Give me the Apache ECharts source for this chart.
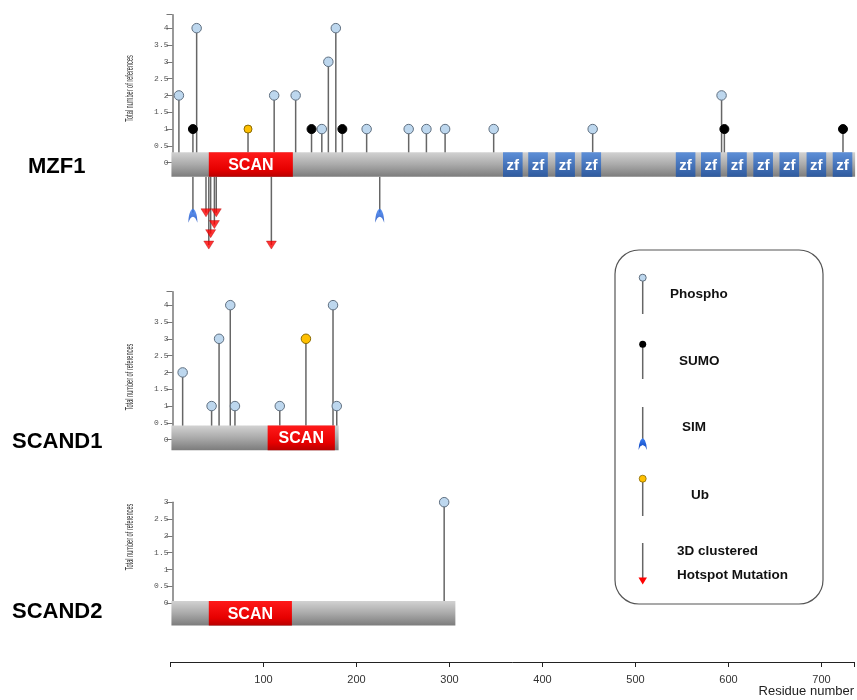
<!DOCTYPE html>
<html>
<head>
<meta charset="utf-8">
<script src="https://cdn.jsdelivr.net/npm/echarts@6/dist/echarts.min.js"></script>
<style>
  html, body { margin: 0; background: #fff; }
  #chart { width: 857px; height: 700px; }
</style>
</head>
<body>
<div id="chart"></div>
<script>
// protein layout data
const proteinNames = ['MZF1', 'SCAND1', 'SCAND2'];
const proteinLengths = [733, 180, 305];
const scanDomains = [[41, 131], [104, 176], [41, 130]];
const mzf1ZincFingers = [[356, 377], [383, 404], [412, 433], [440, 461], [541, 562], [568, 589],
  [596, 617], [624, 645], [652, 673], [681, 702], [709, 730]];

// PTM sites: [residue, total number of references]
const mzf1Phospho = [[9, 2], [28, 4], [111, 2], [134, 2], [162, 1], [169, 3], [177, 4], [210, 1],
  [255, 1], [274, 1], [294, 1], [346, 1], [452, 1], [590, 2]];
const mzf1Sumo = [[24, 1], [151, 1], [184, 1], [593, 1], [720, 1]];
const mzf1Ub = [[83, 1]];
const scand1Phospho = [[13, 2], [44, 1], [52, 3], [64, 4], [69, 1], [117, 1], [174, 4], [178, 1]];
const scand1Ub = [[145, 3]];
const scand2Phospho = [[293, 3]];

// marks under the MZF1 bar: [residue, depth]
const mzf1Sim = [[24, 1.16], [224, 1.16]];
const mzf1Hotspot = [[38, 1.07], [49, 1.07], [47, 1.42], [43, 1.69], [41, 2.03], [108, 2.03]];

const yMaxes = [4.4, 4.4, 3];
const xTickStep = 100;

const chart = echarts.init(document.getElementById('chart'));

const LEFT = 170.5, WIDTH = 687.2, XMAX = 735;
const BAR_H = 0.73;
const barTops = [0.31, 0.42, 0.06];
const upperGrids = [0, 2, 3];

const stemColor = '#666666';
const phosphoColor = '#bdd7ee';
const ubColor = '#ffc000';
const labelFont = 'Liberation Sans, Arial, sans-serif';

const grayFill = new echarts.graphic.LinearGradient(0, 0, 0, 1, [
  { offset: 0, color: '#d2d2d2' }, { offset: 0.5, color: '#aaaaaa' }, { offset: 1, color: '#7c7c7c' }]);
const redFill = new echarts.graphic.LinearGradient(0, 0, 0, 1, [
  { offset: 0, color: '#ff1a1a' }, { offset: 0.7, color: '#e60000' }, { offset: 1, color: '#b80000' }]);
const blueFill = new echarts.graphic.LinearGradient(0, 0, 0, 1, [
  { offset: 0, color: '#5d8fd8' }, { offset: 1, color: '#2f5a9e' }]);
const simFill = new echarts.graphic.LinearGradient(0, 0, 0, 1, [
  { offset: 0, color: '#3a7ff5' }, { offset: 1, color: '#0a40b8' }]);

const simPath = 'path://M0,14 C0,5 3,0 5,0 C7,0 10,5 10,14 C8.6,10 7,8 5,8 C3,8 1.4,10 0,14 Z';

function grid(top, height) {
  return { left: LEFT, width: WIDTH, top: top, height: height };
}

const grids = [grid(14.7, 148), grid(176.8, 74), grid(291.7, 148), grid(502.2, 100.8), grid(661, 1)];

const xAxes = grids.map((g, i) => ({
  type: 'value', gridIndex: i, min: 0, max: XMAX, interval: xTickStep,
  show: i === 4,
  axisLine: { lineStyle: { color: '#222', width: 1 } },
  axisTick: { length: 5, lineStyle: { color: '#222' } },
  splitLine: { show: false },
  axisLabel: {
    margin: 12, color: '#333', fontSize: 11, fontFamily: labelFont,
    formatter: v => (v > 0 && v % xTickStep === 0 ? String(v) : '')
  },
  name: i === 4 ? 'Residue number' : '',
  nameLocation: 'end', nameGap: 0,
  nameTextStyle: { align: 'right', verticalAlign: 'top', padding: [23, 0, 0, 0], color: '#222', fontSize: 13,
    fontFamily: labelFont }
}));

const yAxes = grids.map((g, i) => {
  const k = upperGrids.indexOf(i);
  if (k < 0) {
    return { type: 'value', gridIndex: i, show: false, min: 0, max: i === 1 ? 2.2 : 1, inverse: i === 1 };
  }
  return {
    type: 'value', gridIndex: i, min: 0, max: yMaxes[k], interval: 0.5, offset: -2,
    axisLine: { show: true, lineStyle: { color: '#777', width: 1.5 } },
    axisTick: { show: true, length: 6, lineStyle: { color: '#777' } },
    splitLine: { show: false },
    axisLabel: {
      margin: 4, color: '#555', fontSize: 8, fontFamily: 'Liberation Mono, monospace',
      formatter: v => (Math.abs(v * 2 - Math.round(v * 2)) < 1e-6 ? String(v) : '')
    }
  };
});

function stems(data, idx, color) {
  return {
    type: 'custom', xAxisIndex: idx, yAxisIndex: idx, data: data, silent: true, z: 2,
    renderItem(params, api) {
      const a = api.coord([api.value(0), 0]);
      const b = api.coord([api.value(0), api.value(1)]);
      return { type: 'line', shape: { x1: a[0], y1: a[1], x2: b[0], y2: b[1] },
        style: { stroke: color, lineWidth: 1.5 } };
    }
  };
}

function heads(data, idx, color, border, size) {
  return {
    type: 'scatter', xAxisIndex: idx, yAxisIndex: idx, data: data, silent: true, z: 5,
    symbol: 'circle', symbolSize: size,
    itemStyle: { color: color, borderColor: border, borderWidth: 1, opacity: 1 }
  };
}

function proteinBar(k) {
  const idx = upperGrids[k];
  const top = barTops[k];
  const items = [[1, proteinLengths[k], 0], [scanDomains[k][0], scanDomains[k][1], 1]];
  if (k === 0) mzf1ZincFingers.forEach(z => items.push([z[0], z[1], 2]));
  return {
    type: 'custom', xAxisIndex: idx, yAxisIndex: idx, data: items, silent: true, z: 3,
    renderItem(params, api) {
      const kind = api.value(2);
      const s = api.coord([api.value(0), top]);
      const e = api.coord([api.value(1), top - BAR_H]);
      const children = [{
        type: 'rect',
        shape: { x: s[0], y: s[1], width: e[0] - s[0], height: e[1] - s[1] },
        style: { fill: kind === 0 ? grayFill : kind === 1 ? redFill : blueFill }
      }];
      if (kind > 0) {
        children.push({
          type: 'text', z2: 10,
          style: {
            text: kind === 1 ? 'SCAN' : 'zf', x: (s[0] + e[0]) / 2, y: (s[1] + e[1]) / 2 + 1,
            align: 'center', verticalAlign: 'middle', fill: '#fff',
            font: 'bold ' + (kind === 1 ? 16 : 15) + 'px ' + labelFont
          }
        });
      }
      return { type: 'group', children: children };
    }
  };
}

const series = [
  stems(mzf1Phospho, 0, stemColor), stems(mzf1Sumo, 0, stemColor), stems(mzf1Ub, 0, stemColor),
  heads(mzf1Phospho, 0, phosphoColor, '#5f6f80', 9.5),
  heads(mzf1Sumo, 0, '#000', '#000', 9),
  heads(mzf1Ub, 0, ubColor, '#8a6a00', 8),
  proteinBar(0),
  stems(mzf1Sim.map(d => [d[0], d[1] - 0.1]), 1, stemColor),
  stems(mzf1Hotspot, 1, stemColor),
  {
    type: 'scatter', xAxisIndex: 1, yAxisIndex: 1, data: mzf1Sim, silent: true, z: 5,
    symbol: simPath, symbolSize: [9, 14], itemStyle: { color: simFill }
  },
  {
    type: 'scatter', xAxisIndex: 1, yAxisIndex: 1, data: mzf1Hotspot, silent: true, z: 5,
    symbol: 'triangle', symbolRotate: 180, symbolSize: [10, 8],
    itemStyle: { color: '#ff0000', borderColor: '#b00000', borderWidth: 0.5 }
  },
  stems(scand1Phospho, 2, stemColor), stems(scand1Ub, 2, stemColor),
  heads(scand1Phospho, 2, phosphoColor, '#5f6f80', 9.5),
  heads(scand1Ub, 2, ubColor, '#8a6a00', 9.5),
  proteinBar(1),
  stems(scand2Phospho, 3, stemColor),
  heads(scand2Phospho, 3, phosphoColor, '#5f6f80', 9.5),
  proteinBar(2)
];

// protein names, condensed y-axis titles, legend box
const nameY = [166.5, 442, 612];
const nameX = [28, 12, 12];
const axisTitleY = [88.5, 377, 537];
const legendFont = 'bold 13.5px ' + labelFont;
const graphic = proteinNames.map((n, i) => ({
  type: 'text', x: nameX[i], y: nameY[i],
  style: { text: n, font: 'bold 22px ' + labelFont, fill: '#000', verticalAlign: 'middle' }
}));
axisTitleY.forEach(y => graphic.push({
  type: 'text', x: 130.5, y: y, rotation: Math.PI / 2, scaleX: 0.56,
  style: { text: 'Total number of references', font: '10px ' + labelFont, fill: '#333',
    align: 'center', verticalAlign: 'middle' }
}));
const simIcon = [[0, 12], [0.6, 6.5], [2, 2.2], [4.2, 0], [6.4, 2.2], [7.8, 6.5], [8.4, 12],
  [6.8, 8.5], [4.2, 7], [1.6, 8.5]].map(p => [638.5 + p[0], 438 + p[1]]);
graphic.push(
  { type: 'rect', shape: { x: 615, y: 250, width: 208, height: 354, r: 24 },
    style: { fill: 'none', stroke: '#555', lineWidth: 1.2 } },
  { type: 'line', shape: { x1: 642.7, y1: 281, x2: 642.7, y2: 314 }, style: { stroke: stemColor, lineWidth: 1.5 } },
  { type: 'circle', shape: { cx: 642.7, cy: 277.7, r: 3.5 }, style: { fill: phosphoColor, stroke: '#5f6f80', lineWidth: 1 } },
  { type: 'text', x: 670, y: 294, style: { text: 'Phospho', font: legendFont, fill: '#111', verticalAlign: 'middle' } },
  { type: 'line', shape: { x1: 642.7, y1: 347, x2: 642.7, y2: 379 }, style: { stroke: stemColor, lineWidth: 1.5 } },
  { type: 'circle', shape: { cx: 642.7, cy: 344.3, r: 3.5 }, style: { fill: '#000' } },
  { type: 'text', x: 679, y: 361, style: { text: 'SUMO', font: legendFont, fill: '#111', verticalAlign: 'middle' } },
  { type: 'line', shape: { x1: 642.7, y1: 407, x2: 642.7, y2: 441 }, style: { stroke: stemColor, lineWidth: 1.5 } },
  { type: 'polygon', shape: { points: simIcon }, style: { fill: simFill } },
  { type: 'text', x: 682, y: 427.5, style: { text: 'SIM', font: legendFont, fill: '#111', verticalAlign: 'middle' } },
  { type: 'line', shape: { x1: 642.7, y1: 482, x2: 642.7, y2: 516 }, style: { stroke: stemColor, lineWidth: 1.5 } },
  { type: 'circle', shape: { cx: 642.7, cy: 478.7, r: 3.5 }, style: { fill: ubColor, stroke: '#8a6a00', lineWidth: 0.8 } },
  { type: 'text', x: 691, y: 495, style: { text: 'Ub', font: legendFont, fill: '#111', verticalAlign: 'middle' } },
  { type: 'line', shape: { x1: 642.7, y1: 543, x2: 642.7, y2: 578 }, style: { stroke: stemColor, lineWidth: 1.5 } },
  { type: 'polygon', shape: { points: [[638.5, 577.5], [647, 577.5], [642.7, 584.5]] }, style: { fill: '#ff0000' } },
  { type: 'text', x: 677, y: 551, style: { text: '3D clustered', font: legendFont, fill: '#111', verticalAlign: 'middle' } },
  { type: 'text', x: 677, y: 575.5, style: { text: 'Hotspot Mutation', font: legendFont, fill: '#111', verticalAlign: 'middle' } }
);

chart.setOption({
  animation: false,
  grid: grids,
  xAxis: xAxes,
  yAxis: yAxes,
  series: series,
  graphic: graphic
});
</script>
</body>
</html>
